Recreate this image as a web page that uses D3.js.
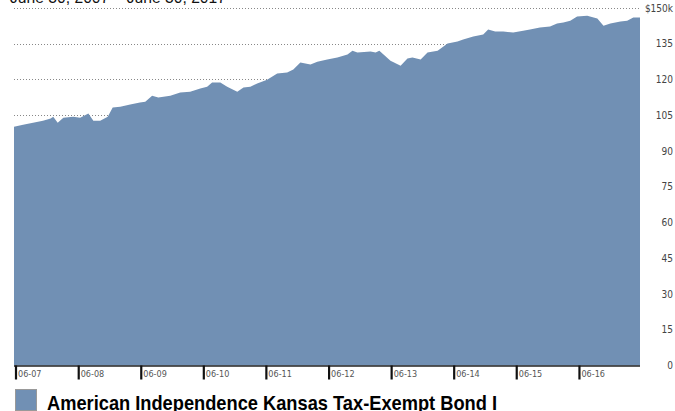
<!DOCTYPE html>
<html>
<head>
<meta charset="utf-8">
<script src="https://cdn.jsdelivr.net/npm/d3@7"></script>
<style>
  html, body { margin: 0; padding: 0; background: #fff; }
  svg { display: block; }
</style>
</head>
<body>
<svg id="chart" width="675" height="411"></svg>
<script>
// ---- data ----
const dates = [
  "2007-06-30","2007-08-22","2007-10-19","2007-12-16","2008-01-30","2008-02-14","2008-03-11","2008-04-13",
  "2008-06-10","2008-07-20","2008-09-06","2008-10-05","2008-11-14","2008-12-28","2009-01-26","2009-03-11",
  "2009-05-08","2009-07-04","2009-08-04","2009-09-13","2009-10-19","2009-12-28","2010-02-24","2010-04-23",
  "2010-06-21","2010-07-31","2010-08-29","2010-10-16","2010-11-25","2011-01-23","2011-02-28","2011-04-09",
  "2011-05-19","2011-07-16","2011-09-13","2011-11-10","2011-12-16","2012-01-26","2012-03-25","2012-05-04",
  "2012-07-01","2012-08-29","2012-10-27","2012-11-25","2012-12-24","2013-03-11","2013-04-09","2013-05-01",
  "2013-07-05","2013-09-02","2013-10-12","2013-11-10","2013-12-28","2014-02-06","2014-04-06","2014-06-03",
  "2014-07-31","2014-09-02","2014-10-31","2014-12-28","2015-01-26","2015-03-08","2015-04-24","2015-06-21",
  "2015-08-18","2015-09-27","2015-11-24","2016-01-22","2016-03-03","2016-04-09","2016-05-19","2016-06-28",
  "2016-08-26","2016-10-24","2016-11-29","2017-01-08","2017-03-08","2017-04-16","2017-05-22","2017-06-20",
  "2017-06-30"
];
const values = [
  100.2,101.0,101.9,102.7,103.6,104.4,101.9,104.0,
  104.4,104.0,105.7,102.7,102.7,104.4,108.2,108.6,
  109.5,110.3,110.7,113.2,112.4,113.2,114.5,114.9,
  116.2,117.0,118.7,118.7,117.0,114.9,116.6,117.0,
  118.3,119.9,122.5,122.9,124.2,127.1,126.3,127.5,
  128.4,129.2,130.5,132.1,131.3,131.7,131.3,132.1,
  127.9,125.8,128.8,129.2,128.4,131.3,132.1,135.1,
  135.9,136.8,138.0,138.9,141.0,140.1,140.1,139.7,
  140.5,141.0,141.8,142.2,143.5,143.9,144.7,146.4,
  146.8,145.6,142.6,143.5,144.3,144.7,146.0,146.0,
  146.0
];
const seriesName = "American Independence Kansas Tax-Exempt Bond I";
const titleText = "June 30, 2007 \u2013 June 30, 2017";
const yTicks = [0,15,30,45,60,75,90,105,120,135,150];
const xTickDates = ["2007-06-30","2008-06-30","2009-06-30","2010-06-30","2011-06-30",
                    "2012-06-30","2013-06-30","2014-06-30","2015-06-30","2016-06-30"];

// ---- chart ----
(function () {
const parse = d3.timeParse("%Y-%m-%d");
const data = dates.map((d, i) => ({ date: parse(d), value: values[i] }));

const svg = d3.select("#chart");
const mLeft = 14, mRight = 640, mTop = 8, mBottom = 365.5;
const fill = "#7190b4";
const condensed = "'Liberation Sans Narrow','Arial Narrow','DejaVu Sans Condensed',sans-serif";

const x = d3.scaleTime()
  .domain([parse("2007-06-30"), parse("2017-06-30")])
  .range([mLeft, mRight]);
const y = d3.scaleLinear().domain([0, 150]).range([mBottom, mTop]);

// title (partially cut off at top)
svg.append("text")
  .attr("x", 10).attr("y", 3)
  .attr("font-family", "'Liberation Sans',Arial,sans-serif")
  .attr("font-size", 16)
  .attr("textLength", 216).attr("lengthAdjust", "spacingAndGlyphs")
  .attr("fill", "#111")
  .text(titleText);

// gridlines
svg.append("g")
  .selectAll("line")
  .data(yTicks.filter(v => v > 0))
  .join("line")
  .attr("x1", mLeft).attr("x2", mRight)
  .attr("y1", d => Math.round(y(d)) + 0.5).attr("y2", d => Math.round(y(d)) + 0.5)
  .attr("stroke", "#888").attr("stroke-width", 1)
  .attr("stroke-dasharray", "1,2");

// area
const area = d3.area()
  .x(d => x(d.date))
  .y0(y(0))
  .y1(d => y(d.value))
  .curve(d3.curveLinear);
svg.append("path")
  .datum(data)
  .attr("d", area)
  .attr("fill", fill);

// right y axis labels
const yAxis = d3.axisRight(y)
  .tickValues(yTicks)
  .tickSize(0)
  .tickFormat(d => d === 150 ? "$150k" : String(d));
const gy = svg.append("g")
  .attr("transform", `translate(673,0)`)
  .call(yAxis);
gy.select(".domain").remove();
gy.selectAll("text")
  .attr("x", 0)
  .attr("text-anchor", "end")
  .attr("font-family", condensed)
  .attr("font-size", 10)
  .attr("fill", "#444");

// x axis baseline
svg.append("line")
  .attr("x1", mLeft).attr("x2", mRight)
  .attr("y1", y(0) + 0.5).attr("y2", y(0) + 0.5)
  .attr("stroke", "#222").attr("stroke-width", 1.5);

// x ticks
const xAxis = d3.axisBottom(x)
  .tickValues(xTickDates.map(parse))
  .tickSize(14)
  .tickFormat(d3.timeFormat("%m-%y"));
const gx = svg.append("g")
  .attr("transform", `translate(0,${y(0)})`)
  .call(xAxis);
gx.select(".domain").remove();
gx.selectAll(".tick line")
  .attr("stroke", "#111").attr("stroke-width", 2.2)
  .attr("transform", "translate(1.5,0)");
gx.selectAll(".tick text")
  .attr("x", 3.5).attr("y", 5).attr("dy", "0.71em")
  .attr("text-anchor", "start")
  .attr("font-family", condensed)
  .attr("font-size", 9)
  .attr("fill", "#555");

// legend
svg.append("rect")
  .attr("x", 15.5).attr("y", 389.5).attr("width", 21).attr("height", 21)
  .attr("fill", fill).attr("stroke", "#999").attr("stroke-width", 1);
svg.append("text")
  .attr("x", 47).attr("y", 410)
  .attr("font-family", "'Liberation Sans',Arial,sans-serif")
  .attr("font-weight", "bold")
  .attr("font-size", 21)
  .attr("textLength", 450).attr("lengthAdjust", "spacingAndGlyphs")
  .attr("fill", "#000")
  .text(seriesName);
})();
</script>
</body>
</html>
